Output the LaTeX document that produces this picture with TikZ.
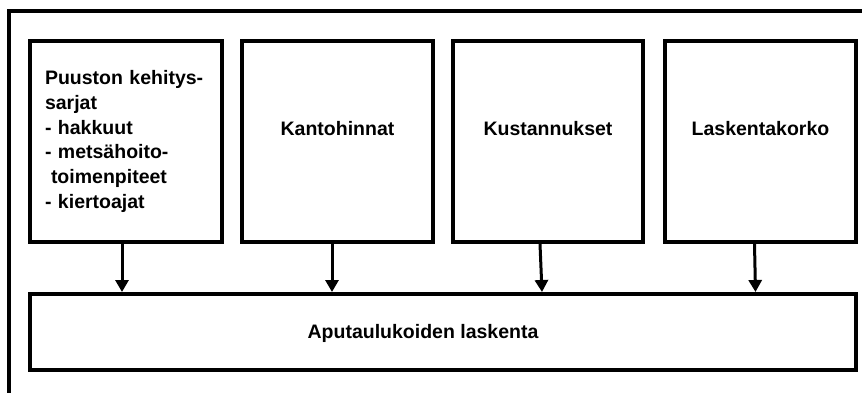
\documentclass[tikz,border=0pt]{standalone}
\usepackage{fontspec}
\setmainfont{Liberation Sans}
\usetikzlibrary{arrows.meta}
\begin{document}
\begin{tikzpicture}[x=1pt,y=-1pt,
  box/.style={draw,line width=4pt,minimum height=201pt,inner sep=0pt,anchor=north west},
  txt/.style={font=\fontsize{19.5}{24.8}\selectfont\bfseries,inner sep=0pt},
  arr/.style={line width=3pt,-{Triangle[width=13pt,length=12pt]}},
  frame/.style={line width=4pt}]
\useasboundingbox (0,0) rectangle (862,392);
% outer frame (partly outside the picture)
\coordinate (fbl) at (8.7,400);
\coordinate (ftl) at (8.7,11.3);
\coordinate (ftr) at (870,11.3);
\draw[frame] (fbl) -- (ftl) -- (ftr);
% input boxes
\node[box,minimum width=192pt,text width=162pt,inner xsep=15pt,align=left,txt,draw] (b1) at (28,39)
  {Puuston kehitys-\\sarjat\\- hakkuut\\- metsähoito-\\\hspace*{6pt}toimenpiteet\\- kiertoajat};
\node[box,minimum width=191pt,label={[txt,yshift=12.5pt]center:Kantohinnat}] (b2) at (240,39) {};
\node[box,minimum width=190pt,label={[txt,yshift=12.5pt]center:Kustannukset}] (b3) at (451,39) {};
\node[box,minimum width=191pt,label={[txt,yshift=12.5pt]center:Laskentakorko}] (b4) at (663,39) {};
% result box
\node[draw,line width=4pt,minimum width=826pt,minimum height=76pt,inner sep=0pt,anchor=north west,
  label={[txt,xshift=-20pt,yshift=-1pt]center:Aputaulukoiden laskenta}] (bot) at (28,292) {};
% arrows
\draw[arr] ([xshift=-4pt]b1.south) -- ([xshift=-4pt]b1.south |- bot.north);
\draw[arr] ([xshift=-5.5pt]b2.south) -- ([xshift=-5.5pt]b2.south |- bot.north);
\draw[arr] ([xshift=-8pt]b3.south) -- ([xshift=-6pt]b3.south |- bot.north);
\draw[arr] ([xshift=-6pt]b4.south) -- ([xshift=-5pt]b4.south |- bot.north);
\end{tikzpicture}
\end{document}
